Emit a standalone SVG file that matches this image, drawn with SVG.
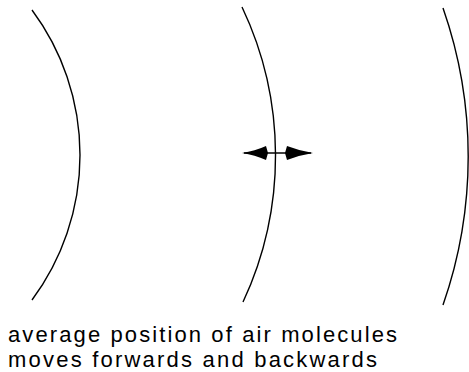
<svg xmlns="http://www.w3.org/2000/svg" width="469" height="372" viewBox="0 0 469 372">
<style>
.wave{fill:none;stroke:#000;stroke-width:1.4}
.shaft{stroke:#000;stroke-width:1.4}
.head{fill:#000;stroke:none}
.label{font-family:"Liberation Sans",Arial,sans-serif;font-size:22px;fill:#000}
</style>
<rect width="469" height="372" fill="#fff"/>
<g id="wavefront1"><path class="wave" d="M32,10 A243,243 0 0 1 32,300"/></g>
<g id="wavefront2"><path class="wave" d="M242,7 A346,346 0 0 1 243,302"/></g>
<g id="wavefront3"><path class="wave" d="M443,8 A450,450 0 0 1 443,305"/></g>
<g id="connectors">
<line class="shaft" x1="244" y1="153" x2="311" y2="153"/>
<path class="head" d="M242,153 Q255,151 266,146 L268,153 L266,160 Q255,155 242,153Z"/>
<path class="head" d="M313,153 Q300,151 287,146 L285,153 L287,160 Q300,155 313,153Z"/>
</g>
<g id="caption">
<text class="label" x="8" y="342" textLength="389" lengthAdjust="spacing">average position of air molecules</text>
<text class="label" x="8" y="367" textLength="369" lengthAdjust="spacing">moves forwards and backwards</text>
</g>
</svg>
